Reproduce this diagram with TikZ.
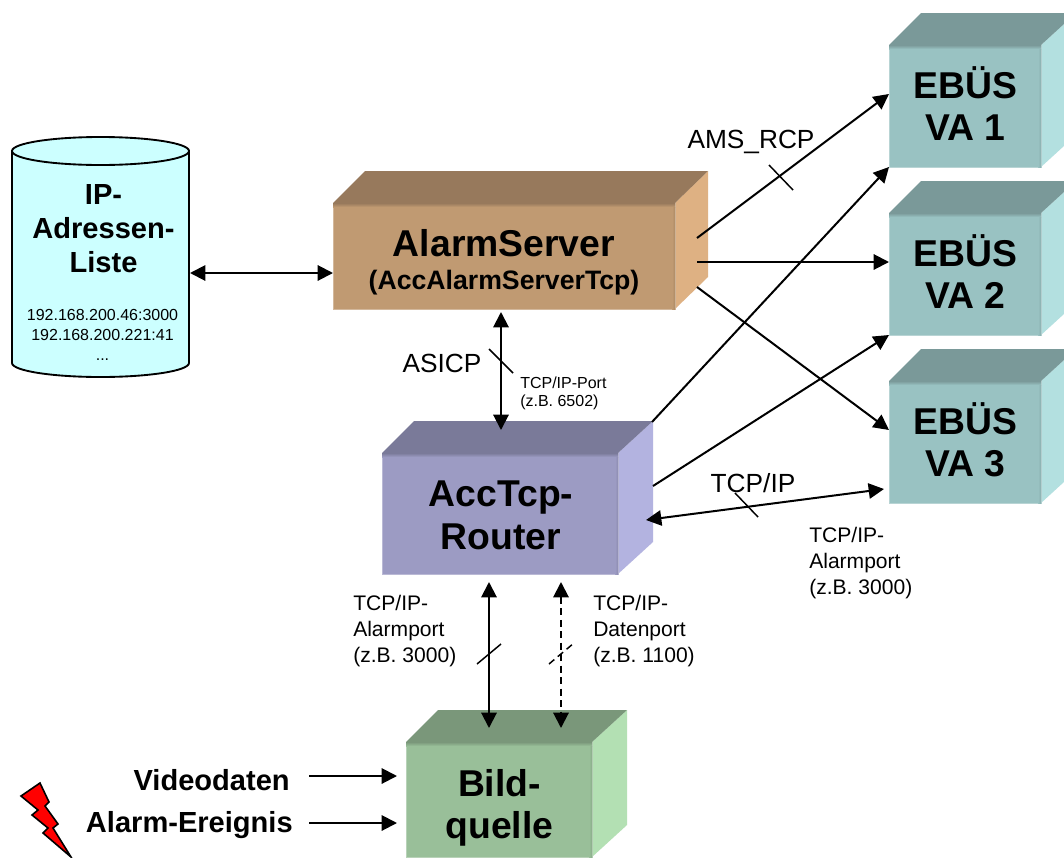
\documentclass[tikz,border=0pt]{standalone}
\usepackage{fontspec}
\setmainfont{Liberation Sans}
\usetikzlibrary{arrows.meta}
\definecolor{asF}{HTML}{C09A72}\definecolor{asT}{HTML}{97795C}\definecolor{asS}{HTML}{DEB183}
\definecolor{rtF}{HTML}{9C9BC3}\definecolor{rtT}{HTML}{7A7A99}\definecolor{rtS}{HTML}{B3B3E0}
\definecolor{blF}{HTML}{99BF99}\definecolor{blT}{HTML}{7A977A}\definecolor{blS}{HTML}{B3E0B3}
\definecolor{ebF}{HTML}{99C2C2}\definecolor{ebT}{HTML}{7A9999}\definecolor{ebS}{HTML}{B3E0E0}
\definecolor{dbF}{HTML}{CCFFFF}
\definecolor{boltred}{HTML}{FF0000}
\tikzset{
  x=0.75pt,y=-0.75pt,
  front/.style={rectangle,inner sep=0pt,outer sep=0pt,anchor=north west},
  big/.style={font=\bfseries\fontsize{28}{31.5}\selectfont,align=center,inner sep=0pt},
  mid/.style={font=\bfseries\fontsize{21.8}{25.5}\selectfont,align=center,inner sep=0pt},
  proto/.style={font=\fontsize{19.7}{23}\selectfont,inner sep=0pt},
  port/.style={font=\fontsize{15.8}{19.5}\selectfont,align=left,inner sep=0pt,anchor=west},
  tiny/.style={font=\fontsize{12}{14}\selectfont,inner sep=0pt},
  link/.style={line width=1.5pt,-{Triangle[length=11.5pt,width=11.5pt]}},
  bilink/.style={line width=1.5pt,{Triangle[length=11.5pt,width=11.5pt]}-{Triangle[length=11.5pt,width=11.5pt]}},
  dashlink/.style={bilink,dash pattern=on 5.2pt off 3.4pt},
  tick/.style={line width=1.1pt},
  dashtick/.style={tick,dash pattern=on 5.2pt off 3.4pt},
}
% #1 name, #2 x, #3 y, #4 w, #5 h, #6 colour prefix, #7 side depth
\newcommand{\cubebox}[7]{%
  \fill[#6S] (#2+#4,#3) -- ++(#7,-32) -- ++(0,#5) -- (#2+#4,#3+#5) -- cycle;
  \fill[#6T] (#2,#3) -- ++(32,-32) -- (#2+#4+#7,#3-32) -- (#2+#4,#3) -- cycle;
  \node[front,minimum width=#4*0.75pt,minimum height=#5*0.75pt,fill=#6F,draw=#6F!70!white,line width=0.6pt] (#1) at (#2,#3) {};
  \shade[top color=#6T,bottom color=#6F] (#2,#3) rectangle (#2+#4,#3+4);
  \shade[left color=#6F,right color=#6F!90!black] (#2+#4-3,#3+4) rectangle (#2+#4,#3+#5);
}
\begin{document}
\begin{tikzpicture}
\useasboundingbox (0,0) rectangle (1064,857);
\clip (0,0) rectangle (1064,857);
\fill[white] (0,0) rectangle (1064,857);

% database cylinder
\node[front,minimum width=177*0.75pt,minimum height=212*0.75pt] (db) at (12,151) {};
\filldraw[fill=dbF,draw=black,line width=1.4pt] (12,151) -- (12,363)
  .. controls (12,370.7) and (51.6,377) .. (100.5,377)
  .. controls (149.4,377) and (189,370.7) .. (189,363) -- (189,151) -- cycle;
\filldraw[fill=dbF,draw=black,line width=1.4pt] (100.5,151) ellipse [x radius=88.5*0.75pt,y radius=14*0.75pt];
\node[mid] (dbtext) at (103.5,229) {IP-\\Adressen-\\Liste};
\node[tiny,align=center,font=\fontsize{12}{14.8}\selectfont] (dblist) at (102.5,335) {192.168.200.46:3000\\192.168.200.221:41\\...};

% cubes
\cubebox{as}{333}{203}{342}{106}{as}{33}
\cubebox{rt}{382}{453}{236}{121}{rt}{35}
\cubebox{bl}{406}{742}{186}{115}{bl}{35}
\cubebox{ea}{889}{45}{152}{122}{eb}{35}
\cubebox{eb}{889}{213}{152}{122}{eb}{35}
\cubebox{ec}{889}{381}{152}{122}{eb}{35}

% cube texts
\node[big] (astext) at (504,243) {AlarmServer};
\node[mid,font=\bfseries\fontsize{20}{24}\selectfont] (astext2) at (504,282.5) {(AccAlarmServerTcp)};
\node[big,font=\bfseries\fontsize{28}{32.2}\selectfont] (rttext) at (501,515) {AccTcp-\\Router};
\node[big] (bltext) at (499.5,807.5) {Bild-\\quelle};
\node[big] (eatext) at (965.5,104) {EBÜS\\VA 1};
\node[big] (ebtext) at (965.5,272) {EBÜS\\VA 2};
\node[big] (ectext) at (965.5,440) {EBÜS\\VA 3};

% side labels
\node[mid,anchor=east] (vid) at (290,780) {Videodaten};
\node[mid,anchor=east] (alm) at (293,825) {Alarm-Ereignis};

% lightning
\filldraw[fill=boltred,draw=black,line width=1.2pt,line join=miter]
  (21,796) -- (40,783) -- (49,802) -- (45,806) -- (58,824) -- (53,828) -- (71,857)
  -- (43,833) -- (48,828) -- (32,815) -- (38,810) -- cycle;

% connectors
\draw[bilink] ([shift={(1,16)}]db.east) -- ([shift={(0,17)}]as.west);
\draw[bilink] ([shift={(-3,3)}]as.south) -- ([shift={(1,-23)}]rt.north);
\draw[link] ([shift={(22,-18)}]as.east) -- ([shift={(0,-12)}]ea.west);
\draw[link] ([shift={(22,6)}]as.east) -- ([shift={(0,-12)}]eb.west);
\draw[link] ([shift={(22,31)}]as.east) -- ([shift={(0,-12)}]ec.west);
\draw[link] ([shift={(34,-91.5)}]rt.east) -- (ea.south west);
\draw[link] ([shift={(35,-27.5)}]rt.east) -- (eb.south west);
\draw[bilink] ([shift={(28,6.5)}]rt.east) -- ([shift={(-5,47)}]ec.west);
\draw[bilink] ([shift={(-11,8)}]rt.south) -- ([shift={(-10,-14)}]bl.north);
\draw[dashlink] ([shift={(61,8)}]rt.south) -- ([shift={(62,-14)}]bl.north);
\draw[link] ([shift={(19,-4)}]vid.east) -- ([shift={(-9,-23.5)}]bl.west);
\draw[link] ([shift={(16,-2)}]alm.east) -- ([shift={(-9,23.5)}]bl.west);

% ticks
\coordinate (t1a) at (489,349); \coordinate (t1b) at (513,373);
\coordinate (t2a) at (769,165); \coordinate (t2b) at (793,190);
\coordinate (t3a) at (735,493); \coordinate (t3b) at (758,517);
\coordinate (t4a) at (477,664); \coordinate (t4b) at (501,644);
\coordinate (t5a) at (549,664); \coordinate (t5b) at (574,643);
\draw[tick] (t1a) -- (t1b);
\draw[tick] (t2a) -- (t2b);
\draw[tick] (t3a) -- (t3b);
\draw[tick] (t4a) -- (t4b);
\draw[dashtick] (t5a) -- (t5b);

% connector labels
\node[proto] (asicp) at (442,363) {ASICP};
\node[proto] (ams) at (751,142) {AMS\_RCP};
\node[proto] (tcp) at (753,483) {TCP/IP};
\node[tiny,align=left,anchor=west,font=\fontsize{12}{13.5}\selectfont] (p1) at (520,393) {TCP/IP-Port\\(z.B. 6502)};
\node[port] (p2) at (353,631) {TCP/IP-\\Alarmport\\(z.B. 3000)};
\node[port] (p3) at (593,631) {TCP/IP-\\Datenport\\(z.B. 1100)};
\node[port] (p4) at (809,563) {TCP/IP-\\Alarmport\\(z.B. 3000)};
\end{tikzpicture}
\end{document}
